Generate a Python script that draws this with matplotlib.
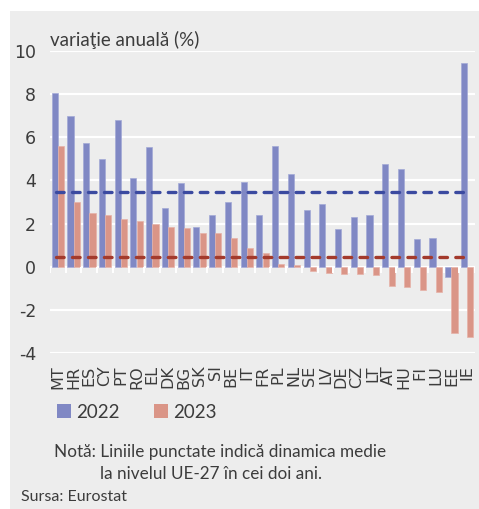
import matplotlib
matplotlib.use("Agg")
import matplotlib.pyplot as plt
from matplotlib.patches import Patch
import numpy as np

# Data
countries = ["MT", "HR", "ES", "CY", "PT", "RO", "EL", "DK", "BG", "SK", "SI", "BE", "IT", "FR",
             "PL", "NL", "SE", "LV", "DE", "CZ", "LT", "AT", "HU", "FI", "LU", "EE", "IE"]
values_2022 = [8.05, 7.0, 5.75, 5.0, 6.8, 4.1, 5.55, 2.7, 3.9, 1.85, 2.42, 2.98, 3.95, 2.42,
               5.6, 4.3, 2.62, 2.92, 1.77, 2.3, 2.4, 4.78, 4.55, 1.3, 1.33, -0.5, 9.45]
values_2023 = [5.6, 3.0, 2.48, 2.42, 2.23, 2.1, 1.98, 1.86, 1.81, 1.58, 1.55, 1.33, 0.88, 0.65,
               0.14, 0.07, -0.18, -0.3, -0.34, -0.34, -0.37, -0.88, -0.96, -1.08, -1.15, -3.05, -3.25]
eu_avg_2022 = 3.45
eu_avg_2023 = 0.43
y_ticks = [-4, -2, 0, 2, 4, 6, 8, 10]

BG = "#ededed"
TEXT = "#3c3c3c"
BLUE = "#8088c4"
SALMON = "#da9587"
BLUE_DASH = "#3b4aa0"
RED_DASH = "#a33a2c"
FONT = ["Lato", "DejaVu Sans"]
NARROW = ["Liberation Sans Narrow", "DejaVu Sans"]

plt.rcParams["lines.scale_dashes"] = False

fig = plt.figure(figsize=(4.79, 5.09), dpi=100)
fig.patch.set_facecolor("white")
# grey panel behind everything
fig.patches.append(plt.Rectangle((10 / 479, 0), 1, 1 - 11 / 509, transform=fig.transFigure,
                                 facecolor=BG, edgecolor="none", zorder=-10))

ax = fig.add_axes([50 / 479, 1 - 353 / 509, 425 / 479, 302 / 509])
ax.set_facecolor(BG)

x = np.arange(len(countries))
width = 0.39

# gridlines
for t in y_ticks:
    ax.axhline(t, color="white", linewidth=1.6, zorder=1)

ax.bar(x - 0.2, values_2022, width, color=BLUE, edgecolor="#a3a9d6", linewidth=0.5, zorder=2)
ax.bar(x + 0.2, values_2023, width, color=SALMON, edgecolor="#e6b3a9", linewidth=0.5, zorder=2)

# tick marks on the zero line between categories
bounds = np.arange(len(countries) + 1) - 0.5
ax.vlines(bounds, -0.28, 0, color="white", linewidth=1.4, zorder=3)

# EU-27 average lines
ax.hlines(eu_avg_2022, x[0] - 0.12, x[-1] + 0.07, color=BLUE_DASH, linewidth=2.4,
          linestyles=(0, (5.5, 6.0)), capstyle="round", zorder=4)
ax.hlines(eu_avg_2023, x[0] - 0.12, x[-1] + 0.07, color=RED_DASH, linewidth=2.4,
          linestyles=(0, (5.5, 6.0)), capstyle="round", zorder=4)

ax.set_xlim(-0.5, len(countries) - 0.5)
ax.set_ylim(-4, 10)
ax.set_yticks(y_ticks)
ax.set_yticklabels([str(t) for t in y_ticks], family=NARROW, fontsize=12.5, color=TEXT)
ax.set_xticks(x)
ax.set_xticklabels(countries, rotation=90, family=NARROW, fontsize=11.5, color=TEXT)
ax.tick_params(axis="y", length=0, pad=10)
ax.tick_params(axis="x", length=0, pad=9)
for side in ["top", "right", "left", "bottom"]:
    ax.spines[side].set_visible(False)

fig.text(50 / 479, 1 - 40 / 509, "variaţie anuală (%)", family=FONT, fontsize=13.5,
         color=TEXT, va="center", ha="left")

handles = [Patch(facecolor=BLUE, edgecolor="none"), Patch(facecolor=SALMON, edgecolor="none")]
fig.legend(handles, ["2022", "2023"], loc="center left", bbox_to_anchor=(40 / 479, 1 - 412 / 509),
           ncol=2, frameon=False, prop={"family": FONT, "size": 13.5}, labelcolor=TEXT,
           handlelength=0.75, handleheight=0.75, handletextpad=0.3, columnspacing=1.8)

fig.text(54 / 479, 1 - 452 / 509, "Notă: Liniile punctate indică dinamica medie", family=FONT,
         fontsize=12.3, color=TEXT, va="center", ha="left")
fig.text(100 / 479, 1 - 474 / 509, "la nivelul UE-27 în cei doi ani.", family=FONT,
         fontsize=12.3, color=TEXT, va="center", ha="left")
fig.text(21 / 479, 1 - 497 / 509, "Sursa: Eurostat", family=FONT, fontsize=11.5,
         color=TEXT, va="center", ha="left")

fig.savefig("out.png", dpi=100, facecolor=fig.get_facecolor())
